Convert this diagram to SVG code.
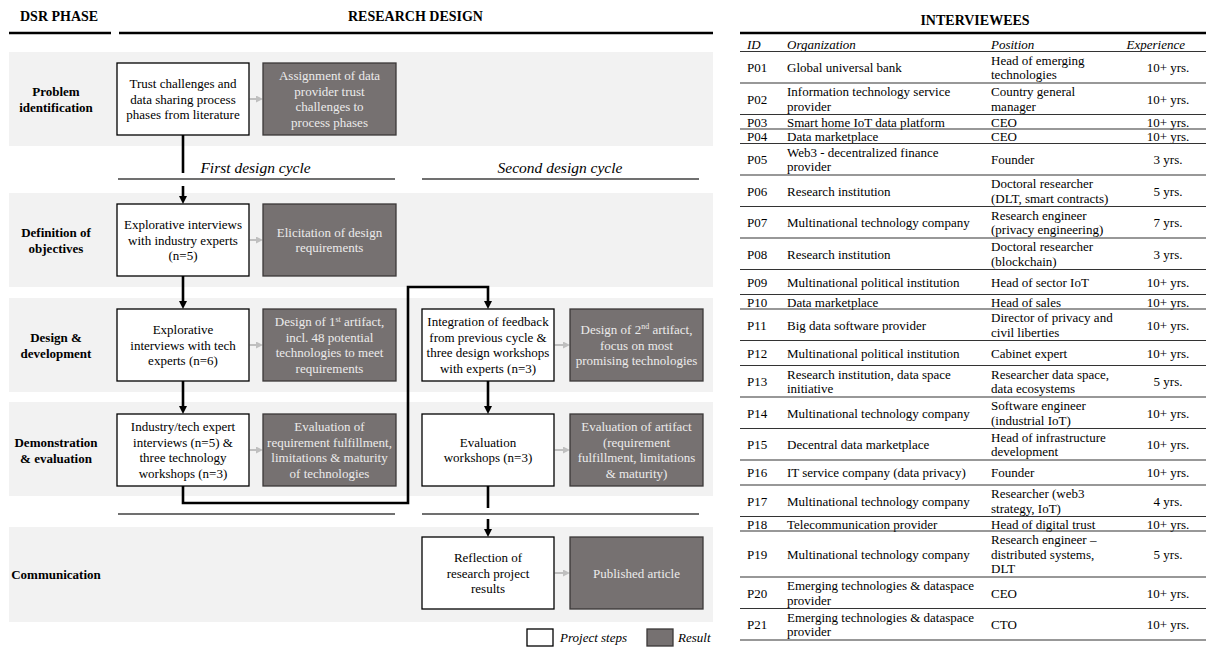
<svg xmlns="http://www.w3.org/2000/svg" width="1209" height="648" viewBox="0 0 1209 648">
<defs>
<style>
.band{fill:#f2f2f2}
.step{fill:#fff;stroke:#000;stroke-width:1.3}
.res{fill:#767171;stroke:#3b3838;stroke-width:1.3}
text{font-family:"Liberation Serif","Times New Roman",serif;fill:#000}
.t{font-size:13px;text-anchor:middle}
.tw{fill:#ecebeb}
.ph{font-size:13px;font-weight:bold;text-anchor:middle}
.hd{font-size:14px;font-weight:bold}
.cyc{font-size:15.5px;font-style:italic;text-anchor:middle}
.lg{font-size:13px;font-style:italic}
.conn{stroke:#000;stroke-width:2.6;fill:none}
.garr{stroke:#bfbfbf;stroke-width:2;fill:none}
.rule{stroke:#404040;stroke-width:1.4}
.thick{stroke:#000;stroke-width:2.6}
.tb{font-size:13px}
.tbh{font-size:13px;font-style:italic}
.c{text-anchor:middle}
.row{stroke:#333;stroke-width:1.1}
</style>
<marker id="ab" viewBox="0 0 10 10" refX="1" refY="5" markerWidth="8" markerHeight="8" markerUnits="userSpaceOnUse" orient="auto"><path d="M0,0 L10,5 L0,10 z" fill="#000"/></marker>
<marker id="ag" viewBox="0 0 10 10" refX="1" refY="5" markerWidth="7" markerHeight="7" markerUnits="userSpaceOnUse" orient="auto"><path d="M0,0 L10,5 L0,10 z" fill="#bfbfbf"/></marker>
</defs>

<!-- headers -->
<g id="headers">
<text class="hd" x="20" y="21">DSR PHASE</text>
<text class="hd" x="415.5" y="21" text-anchor="middle">RESEARCH DESIGN</text>
<line class="thick" x1="9" y1="33" x2="111" y2="33"/>
<line class="thick" x1="119" y1="33" x2="713" y2="33"/>
</g>

<!-- bands -->
<g id="bands">
<rect class="band" x="9" y="52" width="704" height="94"/>
<rect class="band" x="9" y="193" width="704" height="94"/>
<rect class="band" x="9" y="298" width="704" height="94"/>
<rect class="band" x="9" y="402" width="704" height="94"/>
<rect class="band" x="9" y="527" width="704" height="95"/>
</g>

<g id="phase-labels">
<text class="ph"><tspan x="56" y="96">Problem</tspan><tspan x="56" y="112">identification</tspan></text>
<text class="ph"><tspan x="56" y="236.5">Definition of</tspan><tspan x="56" y="252.5">objectives</tspan></text>
<text class="ph"><tspan x="56" y="341.5">Design &amp;</tspan><tspan x="56" y="357.5">development</tspan></text>
<text class="ph"><tspan x="56" y="446.5">Demonstration</tspan><tspan x="56" y="462.5">&amp; evaluation</tspan></text>
<text class="ph" x="56" y="578.5">Communication</text>
</g>

<g id="cycles">
<text class="cyc" x="255.5" y="173">First design cycle</text>
<text class="cyc" x="560" y="173">Second design cycle</text>
<line class="rule" x1="118" y1="179" x2="395" y2="179"/>
<line class="rule" x1="422" y1="179" x2="699" y2="179"/>
<line class="rule" x1="118" y1="514" x2="395" y2="514"/>
<line class="rule" x1="422" y1="514" x2="699" y2="514"/>
</g>

<!-- connectors -->
<g id="connectors">
<path class="conn" d="M183,135 V173"/>
<path class="conn" d="M183,186 V196.8" marker-end="url(#ab)"/>
<path class="conn" d="M183,276 V301.8" marker-end="url(#ab)"/>
<path class="conn" d="M183,381 V406.8" marker-end="url(#ab)"/>
<path class="conn" d="M183,486 V503 H408 V287 H488 V301.8" marker-end="url(#ab)"/>
<path class="conn" d="M488,381 V406.8" marker-end="url(#ab)"/>
<path class="conn" d="M488,486 V508"/>
<path class="conn" d="M488,519 V529.8" marker-end="url(#ab)"/>
<path class="garr" d="M249.7,99 H256.7" marker-end="url(#ag)"/>
<path class="garr" d="M249.7,240 H256.7" marker-end="url(#ag)"/>
<path class="garr" d="M249.7,345 H256.7" marker-end="url(#ag)"/>
<path class="garr" d="M249.7,450 H256.7" marker-end="url(#ag)"/>
<path class="garr" d="M554.7,345 H563.7" marker-end="url(#ag)"/>
<path class="garr" d="M554.7,450 H563.7" marker-end="url(#ag)"/>
<path class="garr" d="M554.7,573 H563.7" marker-end="url(#ag)"/>
</g>

<!-- nodes -->
<g id="step-problem">
<rect class="step" x="117" y="63" width="132" height="72"/>
<text class="t"><tspan x="183" y="87.8">Trust challenges and</tspan><tspan x="183" y="103.5">data sharing process</tspan><tspan x="183" y="119.2">phases from literature</tspan></text>
</g>
<g id="result-problem">
<rect class="res" x="263" y="63" width="133" height="72"/>
<text class="t tw"><tspan x="329.5" y="80">Assignment of data</tspan><tspan x="329.5" y="95.7">provider trust</tspan><tspan x="329.5" y="111.4">challenges to</tspan><tspan x="329.5" y="127.1">process phases</tspan></text>
</g>

<g id="step-objectives">
<rect class="step" x="117" y="204" width="132" height="72"/>
<text class="t"><tspan x="183" y="228.8">Explorative interviews</tspan><tspan x="183" y="244.5">with industry experts</tspan><tspan x="183" y="260.2">(n=5)</tspan></text>
</g>
<g id="result-objectives">
<rect class="res" x="263" y="204" width="133" height="72"/>
<text class="t tw"><tspan x="329.5" y="236.7">Elicitation of design</tspan><tspan x="329.5" y="252.4">requirements</tspan></text>
</g>

<g id="step-design-1">
<rect class="step" x="117" y="309" width="132" height="72"/>
<text class="t"><tspan x="183" y="333.8">Explorative</tspan><tspan x="183" y="349.5">interviews with tech</tspan><tspan x="183" y="365.2">experts (n=6)</tspan></text>
</g>
<g id="result-design-1">
<rect class="res" x="263" y="309" width="133" height="72"/>
<text class="t tw"><tspan x="329.5" y="326">Design of 1<tspan font-size="8" dy="-4.5">st</tspan><tspan dy="4.5"> artifact,</tspan></tspan><tspan x="329.5" y="341.7">incl. 48 potential</tspan><tspan x="329.5" y="357.4">technologies to meet</tspan><tspan x="329.5" y="373.1">requirements</tspan></text>
</g>

<g id="step-demo-1">
<rect class="step" x="117" y="414" width="132" height="72"/>
<text class="t"><tspan x="183" y="431">Industry/tech expert</tspan><tspan x="183" y="446.7">interviews (n=5) &amp;</tspan><tspan x="183" y="462.4">three technology</tspan><tspan x="183" y="478.1">workshops (n=3)</tspan></text>
</g>
<g id="result-demo-1">
<rect class="res" x="263" y="414" width="133" height="72"/>
<text class="t tw"><tspan x="329.5" y="431">Evaluation of</tspan><tspan x="329.5" y="446.7">requirement fulfillment,</tspan><tspan x="329.5" y="462.4">limitations &amp; maturity</tspan><tspan x="329.5" y="478.1">of technologies</tspan></text>
</g>

<g id="step-design-2">
<rect class="step" x="422" y="309" width="132" height="72"/>
<text class="t"><tspan x="488" y="326">Integration of feedback</tspan><tspan x="488" y="341.7">from previous cycle &amp;</tspan><tspan x="488" y="357.4">three design workshops</tspan><tspan x="488" y="373.1">with experts (n=3)</tspan></text>
</g>
<g id="result-design-2">
<rect class="res" x="570" y="309" width="133" height="72"/>
<text class="t tw"><tspan x="636.5" y="333.8">Design of 2<tspan font-size="8" dy="-4.5">nd</tspan><tspan dy="4.5"> artifact,</tspan></tspan><tspan x="636.5" y="349.5">focus on most</tspan><tspan x="636.5" y="365.2">promising technologies</tspan></text>
</g>

<g id="step-demo-2">
<rect class="step" x="422" y="414" width="132" height="72"/>
<text class="t"><tspan x="488" y="446.7">Evaluation</tspan><tspan x="488" y="462.4">workshops (n=3)</tspan></text>
</g>
<g id="result-demo-2">
<rect class="res" x="570" y="414" width="133" height="72"/>
<text class="t tw"><tspan x="636.5" y="431">Evaluation of artifact</tspan><tspan x="636.5" y="446.7">(requirement</tspan><tspan x="636.5" y="462.4">fulfillment, limitations</tspan><tspan x="636.5" y="478.1">&amp; maturity)</tspan></text>
</g>

<g id="step-communication">
<rect class="step" x="422" y="537" width="132" height="72"/>
<text class="t"><tspan x="488" y="561.8">Reflection of</tspan><tspan x="488" y="577.5">research project</tspan><tspan x="488" y="593.2">results</tspan></text>
</g>
<g id="result-communication">
<rect class="res" x="570" y="537" width="133" height="72"/>
<text class="t tw" x="636.5" y="577.5">Published article</text>
</g>

<g id="legend">
<rect class="step" x="527" y="629" width="26" height="17"/>
<text class="lg" x="560" y="642">Project steps</text>
<rect class="res" x="647" y="629" width="26" height="17"/>
<text class="lg" x="678" y="642">Result</text>
</g>

<!-- table -->
<g id="interviewees">
<text class="hd" x="975" y="25" text-anchor="middle">INTERVIEWEES</text>
<line class="thick" x1="740" y1="33" x2="1206" y2="33"/>
<text class="tbh" x="747" y="48.5">ID</text>
<text class="tbh" x="787" y="48.5">Organization</text>
<text class="tbh" x="991" y="48.5">Position</text>
<text class="tbh" x="1185" y="48.5" text-anchor="end">Experience</text>
<line class="row" x1="740" y1="51.5" x2="1206" y2="51.5"/>

<g class="tb">
<!-- P01 51.5-83 c67.25 -->
<text class="tb" x="747" y="72">P01</text><text class="tb" x="787" y="72">Global universal bank</text>
<text class="tb"><tspan x="991" y="64.5">Head of emerging</tspan><tspan x="991" y="79">technologies</tspan></text>
<text class="tb c" x="1168" y="72">10+ yrs.</text>
<line class="row" x1="740" y1="83" x2="1206" y2="83"/>
<!-- P02 83-114.5 c98.75 -->
<text class="tb" x="747" y="103.5">P02</text>
<text class="tb"><tspan x="787" y="96">Information technology service</tspan><tspan x="787" y="110.5">provider</tspan></text>
<text class="tb"><tspan x="991" y="96">Country general</tspan><tspan x="991" y="110.5">manager</tspan></text>
<text class="tb c" x="1168" y="103.5">10+ yrs.</text>
<line class="row" x1="740" y1="114.5" x2="1206" y2="114.5"/>
<!-- P03 114.5-129 -->
<text class="tb" x="747" y="126.5">P03</text><text class="tb" x="787" y="126.5">Smart home IoT data platform</text><text class="tb" x="991" y="126.5">CEO</text><text class="tb c" x="1168" y="126.5">10+ yrs.</text>
<line class="row" x1="740" y1="129" x2="1206" y2="129"/>
<!-- P04 129-143.5 -->
<text class="tb" x="747" y="141">P04</text><text class="tb" x="787" y="141">Data marketplace</text><text class="tb" x="991" y="141">CEO</text><text class="tb c" x="1168" y="141">10+ yrs.</text>
<line class="row" x1="740" y1="143.5" x2="1206" y2="143.5"/>
<!-- P05 143.5-175 c159.25 -->
<text class="tb" x="747" y="164">P05</text>
<text class="tb"><tspan x="787" y="156.5">Web3  - decentralized finance</tspan><tspan x="787" y="171">provider</tspan></text>
<text class="tb" x="991" y="164">Founder</text><text class="tb c" x="1168" y="164">3 yrs.</text>
<line class="row" x1="740" y1="175" x2="1206" y2="175"/>
<!-- P06 175-206.5 c190.75 -->
<text class="tb" x="747" y="195.5">P06</text><text class="tb" x="787" y="195.5">Research institution</text>
<text class="tb"><tspan x="991" y="188">Doctoral researcher</tspan><tspan x="991" y="202.5">(DLT, smart contracts)</tspan></text>
<text class="tb c" x="1168" y="195.5">5 yrs.</text>
<line class="row" x1="740" y1="206.5" x2="1206" y2="206.5"/>
<!-- P07 206.5-238 c222.25 -->
<text class="tb" x="747" y="227">P07</text><text class="tb" x="787" y="227">Multinational technology company</text>
<text class="tb"><tspan x="991" y="219.5">Research engineer</tspan><tspan x="991" y="234">(privacy engineering)</tspan></text>
<text class="tb c" x="1168" y="227">7 yrs.</text>
<line class="row" x1="740" y1="238" x2="1206" y2="238"/>
<!-- P08 238-269.5 c253.75 -->
<text class="tb" x="747" y="258.5">P08</text><text class="tb" x="787" y="258.5">Research institution</text>
<text class="tb"><tspan x="991" y="251">Doctoral researcher</tspan><tspan x="991" y="265.5">(blockchain)</tspan></text>
<text class="tb c" x="1168" y="258.5">3 yrs.</text>
<line class="row" x1="740" y1="269.5" x2="1206" y2="269.5"/>
<!-- P09 269.5-294.5 c282 -->
<text class="tb" x="747" y="286.5">P09</text><text class="tb" x="787" y="286.5">Multinational political institution</text><text class="tb" x="991" y="286.5">Head of sector IoT</text><text class="tb c" x="1168" y="286.5">10+ yrs.</text>
<line class="row" x1="740" y1="294.5" x2="1206" y2="294.5"/>
<!-- P10 294.5-309 -->
<text class="tb" x="747" y="306.5">P10</text><text class="tb" x="787" y="306.5">Data marketplace</text><text class="tb" x="991" y="306.5">Head of sales</text><text class="tb c" x="1168" y="306.5">10+ yrs.</text>
<line class="row" x1="740" y1="309" x2="1206" y2="309"/>
<!-- P11 309-340.5 c324.75 -->
<text class="tb" x="747" y="329.5">P11</text><text class="tb" x="787" y="329.5">Big data software provider</text>
<text class="tb"><tspan x="991" y="322">Director of privacy and</tspan><tspan x="991" y="336.5">civil liberties</tspan></text>
<text class="tb c" x="1168" y="329.5">10+ yrs.</text>
<line class="row" x1="740" y1="340.5" x2="1206" y2="340.5"/>
<!-- P12 340.5-365.5 c353 -->
<text class="tb" x="747" y="357.5">P12</text><text class="tb" x="787" y="357.5">Multinational political institution</text><text class="tb" x="991" y="357.5">Cabinet expert</text><text class="tb c" x="1168" y="357.5">10+ yrs.</text>
<line class="row" x1="740" y1="365.5" x2="1206" y2="365.5"/>
<!-- P13 365.5-397 c381.25 -->
<text class="tb" x="747" y="386">P13</text>
<text class="tb"><tspan x="787" y="378.5">Research institution, data space</tspan><tspan x="787" y="393">initiative</tspan></text>
<text class="tb"><tspan x="991" y="378.5">Researcher data space,</tspan><tspan x="991" y="393">data ecosystems</tspan></text>
<text class="tb c" x="1168" y="386">5 yrs.</text>
<line class="row" x1="740" y1="397" x2="1206" y2="397"/>
<!-- P14 397-428.5 c412.75 -->
<text class="tb" x="747" y="417.5">P14</text><text class="tb" x="787" y="417.5">Multinational technology company</text>
<text class="tb"><tspan x="991" y="410">Software engineer</tspan><tspan x="991" y="424.5">(industrial IoT)</tspan></text>
<text class="tb c" x="1168" y="417.5">10+ yrs.</text>
<line class="row" x1="740" y1="428.5" x2="1206" y2="428.5"/>
<!-- P15 428.5-460 c444.25 -->
<text class="tb" x="747" y="449">P15</text><text class="tb" x="787" y="449">Decentral data marketplace</text>
<text class="tb"><tspan x="991" y="441.5">Head of infrastructure</tspan><tspan x="991" y="456">development</tspan></text>
<text class="tb c" x="1168" y="449">10+ yrs.</text>
<line class="row" x1="740" y1="460" x2="1206" y2="460"/>
<!-- P16 460-485 c472.5 -->
<text class="tb" x="747" y="477">P16</text><text class="tb" x="787" y="477">IT service company (data privacy)</text><text class="tb" x="991" y="477">Founder</text><text class="tb c" x="1168" y="477">10+ yrs.</text>
<line class="row" x1="740" y1="485" x2="1206" y2="485"/>
<!-- P17 485-516.5 c500.75 -->
<text class="tb" x="747" y="505.5">P17</text><text class="tb" x="787" y="505.5">Multinational technology company</text>
<text class="tb"><tspan x="991" y="498">Researcher (web3</tspan><tspan x="991" y="512.5">strategy, IoT)</tspan></text>
<text class="tb c" x="1168" y="505.5">4 yrs.</text>
<line class="row" x1="740" y1="516.5" x2="1206" y2="516.5"/>
<!-- P18 516.5-531 -->
<text class="tb" x="747" y="528.5">P18</text><text class="tb" x="787" y="528.5">Telecommunication provider</text><text class="tb" x="991" y="528.5">Head of digital trust</text><text class="tb c" x="1168" y="528.5">10+ yrs.</text>
<line class="row" x1="740" y1="531" x2="1206" y2="531"/>
<!-- P19 531-577 c554 -->
<text class="tb" x="747" y="558.5">P19</text><text class="tb" x="787" y="558.5">Multinational technology company</text>
<text class="tb"><tspan x="991" y="544">Research engineer –</tspan><tspan x="991" y="558.5">distributed systems,</tspan><tspan x="991" y="573">DLT</tspan></text>
<text class="tb c" x="1168" y="558.5">5 yrs.</text>
<line class="row" x1="740" y1="577" x2="1206" y2="577"/>
<!-- P20 577-608.5 c592.75 -->
<text class="tb" x="747" y="597.5">P20</text>
<text class="tb"><tspan x="787" y="590">Emerging technologies &amp; dataspace</tspan><tspan x="787" y="604.5">provider</tspan></text>
<text class="tb" x="991" y="597.5">CEO</text><text class="tb c" x="1168" y="597.5">10+ yrs.</text>
<line class="row" x1="740" y1="608.5" x2="1206" y2="608.5"/>
<!-- P21 608.5-640 c624.25 -->
<text class="tb" x="747" y="629">P21</text>
<text class="tb"><tspan x="787" y="621.5">Emerging technologies &amp; dataspace</tspan><tspan x="787" y="636">provider</tspan></text>
<text class="tb" x="991" y="629">CTO</text><text class="tb c" x="1168" y="629">10+ yrs.</text>
<line class="row" x1="740" y1="640" x2="1206" y2="640"/>
</g>
</g>
</svg>
